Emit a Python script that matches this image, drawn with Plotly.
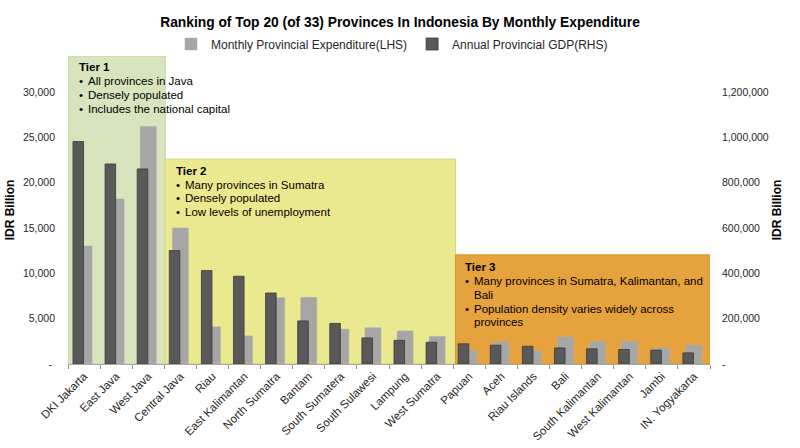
import plotly.graph_objects as go

provinces = ["DKI Jakarta", "East Java", "West Java", "Central Java", "Riau",
             "East Kalimantan", "North Sumatra", "Bantam", "South Sumatera",
             "South Sulawesi", "Lampung", "West Sumatra", "Papuan", "Aceh",
             "Riau Islands", "Bali", "South Kalimantan", "West Kalimantan",
             "Jambi", "IN. Yogyakarta"]
expenditure = [13000, 18200, 26200, 15000, 4100, 3100, 7300, 7350, 3850, 4000,
               3650, 3050, 1500, 2450, 1450, 2980, 2500, 2500, 1760, 2100]
gdp = [981000, 882000, 860000, 500000, 412000, 387000, 313000, 190000, 179000,
       115000, 104000, 96000, 89000, 83000, 78000, 71000, 67000, 64000, 61000,
       49000]

left_ticks = [0, 5000, 10000, 15000, 20000, 25000, 30000]
left_text = ["-\u00a0", "5,000", "10,000", "15,000", "20,000", "25,000", "30,000"]
right_ticks = [0, 200000, 400000, 600000, 800000, 1000000, 1200000]
right_text = ["-", "200,000", "400,000", "600,000", "800,000", "1,000,000", "1,200,000"]

tiers = [
    dict(x0=-0.5, x1=2.53, y1=33950, fill="#d7e4bd", line="#c3d69b"),
    dict(x0=2.53, x1=11.57, y1=22580, fill="#ebe98f", line="#d6d47a"),
    dict(x0=11.57, x1=19.5, y1=12030, fill="#e6a23c", line="#d69430"),
]

FONT = "Liberation Sans, Arial, sans-serif"
L, R, T, B = 68, 90, 56, 84
W, H = 800, 448
PW, PH = W - L - R, H - T - B


def pp(x, y):
    return (x - L) / PW, (H - B - y) / PH


fig = go.Figure()
fig.add_trace(go.Bar(
    x=provinces, y=expenditure, name="Monthly Provincial Expenditure(LHS)",
    marker=dict(color="#a6a6a6", line=dict(color="#b3b3b3", width=0.5)),
    width=0.5, offset=-0.25, yaxis="y"))
fig.add_trace(go.Bar(
    x=provinces, y=gdp, name="Annual Provincial GDP(RHS)",
    marker=dict(color="#595959", line=dict(color="#3a3a3a", width=0.8)),
    width=0.33, offset=-0.345, yaxis="y2"))

for t in tiers:
    fig.add_shape(type="rect", xref="x", yref="y", x0=t["x0"], x1=t["x1"],
                  y0=0, y1=t["y1"], fillcolor=t["fill"],
                  line=dict(color=t["line"], width=1), layer="below")

# tier texts: (x, y, text, bold)
texts = [
    (77.5, 67, "Tier 1", True),
    (77.5, 81.5, "•", False), (86.5, 81.5, "All provinces in Java", False),
    (77.5, 95.3, "•", False), (86.5, 95.3, "Densely populated", False),
    (77.5, 109.3, "•", False), (86.5, 109.3, "Includes the national capital", False),
    (174.5, 170.7, "Tier 2", True),
    (174.5, 184.5, "•", False), (183.5, 184.5, "Many provinces in Sumatra", False),
    (174.5, 198.3, "•", False), (183.5, 198.3, "Densely populated", False),
    (174.5, 212.2, "•", False), (183.5, 212.2, "Low levels of unemployment", False),
    (463.5, 266.7, "Tier 3", True),
    (463.5, 280.7, "•", False), (472.5, 280.7, "Many provinces in Sumatra, Kalimantan, and", False),
    (472.5, 294.5, "Bali", False),
    (463.5, 308.8, "•", False), (472.5, 308.8, "Population density varies widely across", False),
    (472.5, 322.2, "provinces", False),
]
for x, y, s, b in texts:
    xp, yp = pp(x, y)
    fig.add_annotation(x=xp, y=yp, xref="paper", yref="paper", text=f"<b>{s}</b>" if b else s,
                       showarrow=False, xanchor="left", yanchor="middle",
                       font=dict(family=FONT, size=11.5, color="#000000"), borderpad=0)

fig.update_layout(
    width=W, height=H, margin=dict(l=L, r=R, t=T, b=B, autoexpand=False),
    paper_bgcolor="white", plot_bgcolor="white",
    font=dict(family=FONT, size=11.5, color="#262626"),
    title=dict(text="<b>Ranking of Top 20 (of 33) Provinces In Indonesia By Monthly Expenditure</b>",
               x=0.5, xanchor="center", y=1 - 22 / H, yanchor="middle",
               font=dict(family=FONT, size=13.8, color="#000000")),
    showlegend=True,
    legend=dict(orientation="h", x=pp(392, 0)[0], xanchor="center",
                y=1 + (T - 44) / PH, yanchor="middle",
                font=dict(family=FONT, size=12, color="#262626"),
                itemwidth=30, bgcolor="rgba(0,0,0,0)", tracegroupgap=0),
    barmode="overlay",
    xaxis=dict(type="category", tickangle=-45, ticks="outside", tickson="boundaries",
               ticklen=4, tickcolor="#8c8c8c", showline=True, linecolor="#a6a6a6",
               showgrid=False, range=[-0.5, 19.5], automargin=False,
               tickfont=dict(family=FONT, size=11.5, color="#262626")),
    yaxis=dict(range=[0, 33950], tickvals=left_ticks, ticktext=left_text,
               showgrid=False, zeroline=False, showline=False, ticks="",
               ticklabelstandoff=12, automargin=True,
               tickfont=dict(family=FONT, size=10.5, color="#262626"),
               title=dict(text="<b>IDR Billion</b>", font=dict(family=FONT, size=12, color="#000000"),
                          standoff=5)),
    yaxis2=dict(range=[0, 33950 * 40], tickvals=right_ticks, ticktext=right_text,
                overlaying="y", side="right", showgrid=False, zeroline=False,
                showline=False, ticks="", ticklabelstandoff=11, automargin=True,
                tickfont=dict(family=FONT, size=10.5, color="#262626"),
                title=dict(text="<b>IDR Billion</b>", font=dict(family=FONT, size=12, color="#000000"),
                           standoff=4)),
)

fig.write_html("out.html")
